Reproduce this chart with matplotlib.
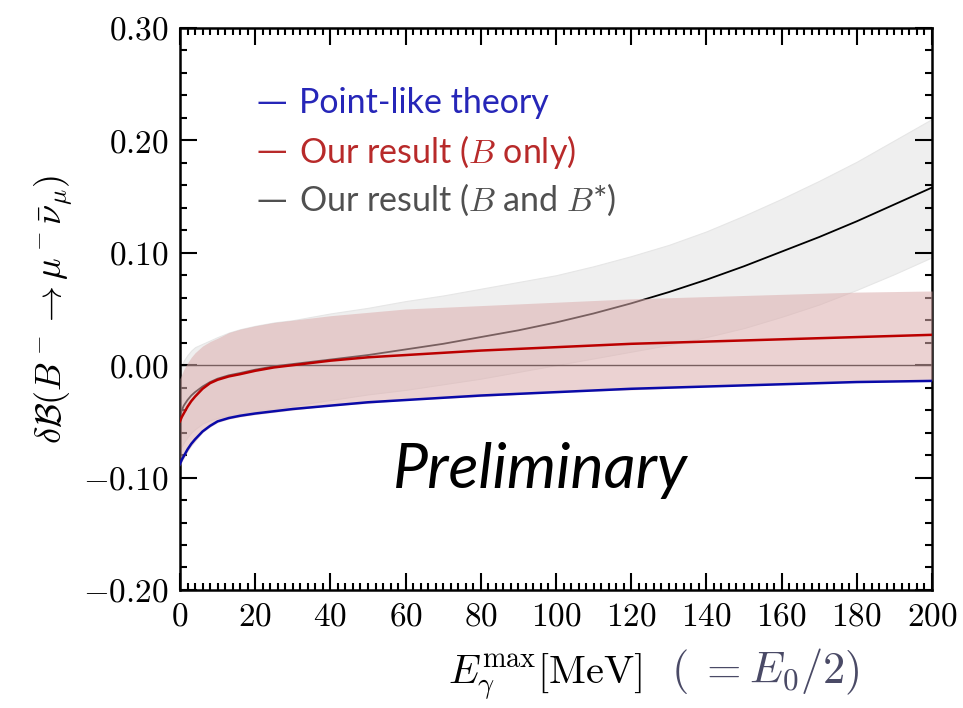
import matplotlib
matplotlib.use("Agg")
import matplotlib.pyplot as plt
from matplotlib.ticker import MultipleLocator, FuncFormatter

plt.rcParams['mathtext.fontset'] = 'cm'
plt.rcParams['font.family'] = ['Lato', 'DejaVu Sans']

# E_gamma^max [MeV]
e_max = [0, 0.5, 1, 2, 3, 4, 6, 8, 10, 13, 16, 20, 25, 30, 40, 50,
         60, 70, 80, 90, 100, 110, 120, 130, 140, 150, 160, 170, 180, 190, 200]

# point-like theory
point_like = [-0.088, -0.084, -0.081, -0.075, -0.070, -0.066, -0.059, -0.054,
              -0.050, -0.047, -0.045, -0.043, -0.041, -0.039, -0.036, -0.033,
              -0.031, -0.029, -0.027, -0.0255, -0.024, -0.0225, -0.021, -0.020,
              -0.019, -0.018, -0.017, -0.016, -0.015, -0.0145, -0.014]

# our result, B only (central, upper, lower)
b_only = [-0.050, -0.046, -0.043, -0.037, -0.032, -0.028, -0.021, -0.016,
          -0.013, -0.010, -0.008, -0.005, -0.002, 0.000, 0.004, 0.007,
          0.009, 0.011, 0.013, 0.0145, 0.016, 0.0175, 0.019, 0.020,
          0.021, 0.022, 0.023, 0.024, 0.025, 0.026, 0.027]
b_only_hi = [-0.012, -0.008, -0.004, 0.002, 0.007, 0.011, 0.017, 0.021,
             0.024, 0.029, 0.032, 0.035, 0.038, 0.040, 0.044, 0.047,
             0.050, 0.0515, 0.053, 0.0545, 0.056, 0.0575, 0.059, 0.060,
             0.061, 0.062, 0.063, 0.064, 0.065, 0.0655, 0.066]
b_only_lo = [-0.090, -0.086, -0.083, -0.077, -0.072, -0.068, -0.060, -0.055,
             -0.051, -0.048, -0.046, -0.044, -0.042, -0.040, -0.036, -0.034,
             -0.031, -0.0295, -0.028, -0.026, -0.024, -0.023, -0.022, -0.0205,
             -0.019, -0.018, -0.017, -0.016, -0.015, -0.0145, -0.014]

# our result, B and B* (central, upper, lower)
b_bstar = [-0.045, -0.040, -0.036, -0.031, -0.027, -0.024, -0.019, -0.015,
           -0.012, -0.009, -0.007, -0.004, -0.001, 0.001, 0.005, 0.009,
           0.014, 0.019, 0.025, 0.031, 0.038, 0.046, 0.055, 0.065,
           0.076, 0.088, 0.101, 0.114, 0.128, 0.143, 0.158]
b_bstar_hi = [-0.006, 0.000, 0.004, 0.009, 0.013, 0.016, 0.019, 0.022,
              0.025, 0.029, 0.032, 0.035, 0.038, 0.040, 0.046, 0.051,
              0.057, 0.062, 0.068, 0.074, 0.080, 0.088, 0.097, 0.107,
              0.119, 0.133, 0.148, 0.164, 0.181, 0.200, 0.219]
b_bstar_lo = [-0.075, -0.072, -0.069, -0.064, -0.060, -0.057, -0.052, -0.049,
              -0.047, -0.045, -0.043, -0.041, -0.039, -0.036, -0.031, -0.026,
              -0.022, -0.017, -0.012, -0.006, 0.000, 0.006, 0.012, 0.018,
              0.025, 0.033, 0.043, 0.054, 0.067, 0.081, 0.096]

legend_labels = ["Point-like theory", "Our result ($B$ only)",
                 "Our result ($B$ and $B$*)"]
legend_colors = ["#2626b8", "#b82a2a", "#505050"]

fig = plt.figure(figsize=(9.63, 7.08), dpi=100)
ax = fig.add_axes([0.1869, 0.1667, 0.7809, 0.7938])

ax.fill_between(e_max, b_bstar_lo, b_bstar_hi, color="#efefef", lw=0.8,
                edgecolor="#e6e6e6", zorder=1)
ax.plot(e_max, b_bstar, color="black", lw=1.3, zorder=2)
ax.axhline(0, color="black", lw=1.0, zorder=2)
ax.fill_between(e_max, b_only_lo, b_only_hi, color="#dcaeae", alpha=0.55,
                lw=0, zorder=3)
ax.plot(e_max, b_only, color="#bb0000", lw=1.8, zorder=4)
ax.plot(e_max, point_like, color="#0a0aa8", lw=1.8, zorder=4)

ax.set_xlim(0, 200)
ax.set_ylim(-0.2, 0.3)
ax.xaxis.set_major_locator(MultipleLocator(20))
ax.xaxis.set_minor_locator(MultipleLocator(2))
ax.yaxis.set_major_locator(MultipleLocator(0.1))
ax.yaxis.set_minor_locator(MultipleLocator(0.02))
ax.xaxis.set_major_formatter(FuncFormatter(lambda v, p: "$%d$" % round(v)))
ax.yaxis.set_major_formatter(FuncFormatter(lambda v, p: "$%.2f$" % v))
ax.tick_params(which="both", direction="in", top=True, right=True,
               width=1.5, labelsize=24, pad=8)
ax.tick_params(which="major", length=12)
ax.tick_params(which="minor", length=5)
for s in ax.spines.values():
    s.set_linewidth(1.8)

ax.set_ylabel(r"$\delta\mathcal{B}(B^-\to\mu^-\bar{\nu}_\mu)$", fontsize=26,
              labelpad=6)
fig.text(0.465, 0.035, r"$E_\gamma^{\max}[\mathrm{MeV}]$", fontsize=29,
         ha="left", va="baseline")
fig.text(0.697, 0.035, r"$(\;=E_0/2)$", fontsize=32, color="#4a4a66",
         ha="left", va="baseline")

for i, (lab, col) in enumerate(zip(legend_labels, legend_colors)):
    y = 0.855 - i * 0.069
    fig.text(0.266, y, "\u2014", fontsize=22, color=col, va="center",
             family=["DejaVu Sans"])
    fig.text(0.311, y, lab, fontsize=24.5, color=col, va="center")

fig.text(0.561, 0.336, "Preliminary", fontsize=45, style="italic",
         ha="center", va="center")

fig.savefig("out.png", dpi=100)
